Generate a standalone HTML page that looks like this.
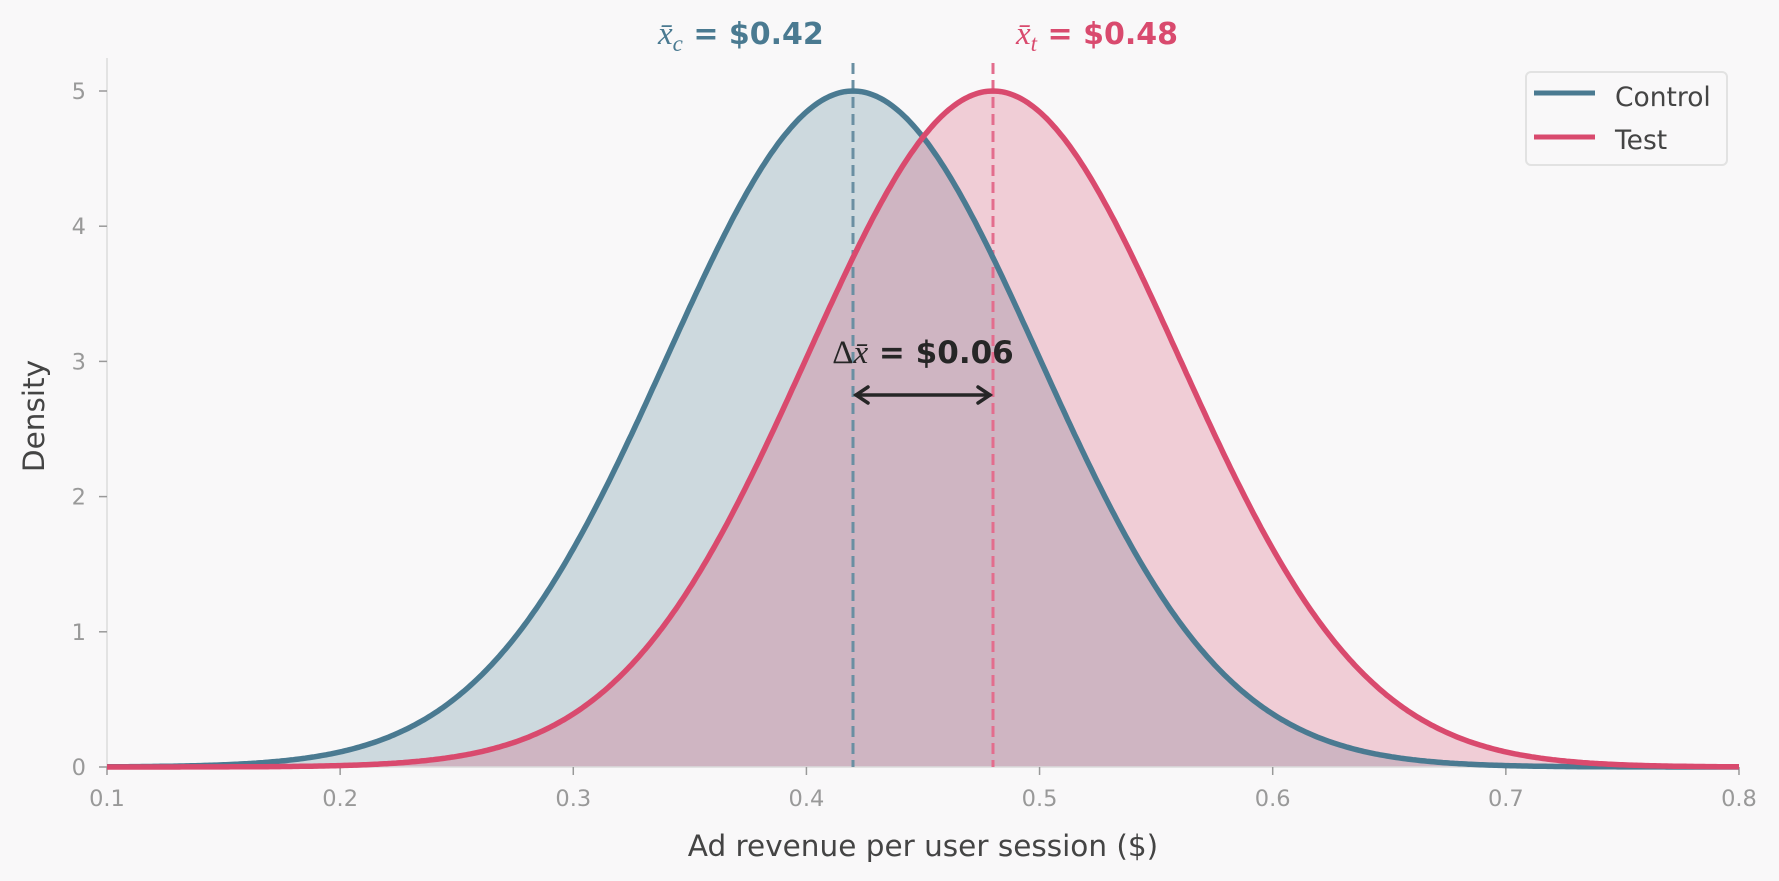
<!DOCTYPE html>
<html><head><meta charset="utf-8"><style>
html,body{margin:0;padding:0;background:#f9f8f9;}
svg{display:block;font-family:"DejaVu Sans","Liberation Sans",sans-serif;}
</style></head><body>
<svg id="s" width="1779" height="881" viewBox="0 0 1779 881" xmlns="http://www.w3.org/2000/svg">
<rect width="1779" height="881" fill="#f9f8f9"/>
<g id="fills"></g>
<line x1="107" y1="58" x2="107" y2="767" stroke="#dcdcdc" stroke-width="1.5"/>
<line x1="107" y1="767" x2="1739" y2="767" stroke="#dcdcdc" stroke-width="1.5"/>
<g id="ticks" fill="#999" font-size="22.5"></g>
<line x1="853" y1="63" x2="853" y2="767" stroke="#6a8fa2" stroke-width="3" stroke-dasharray="11,6"/>
<line x1="993" y1="63" x2="993" y2="767" stroke="#e36d8d" stroke-width="3" stroke-dasharray="11,6"/>
<g id="lines"></g>
<text x="658" y="44" fill="#4a7a91" font-size="30"><tspan font-family="Liberation Serif,serif" font-style="italic" font-size="33">x̄</tspan><tspan font-family="Liberation Serif,serif" font-style="italic" font-size="23" dy="7">c</tspan><tspan dy="-7" font-weight="bold"> = $0.42</tspan></text>
<text x="1016" y="44" fill="#d94a6e" font-size="30"><tspan font-family="Liberation Serif,serif" font-style="italic" font-size="33">x̄</tspan><tspan font-family="Liberation Serif,serif" font-style="italic" font-size="23" dy="7">t</tspan><tspan dy="-7" font-weight="bold"> = $0.48</tspan></text>
<text x="923" y="363" text-anchor="middle" fill="#262626" font-size="31"><tspan font-family="Liberation Serif,serif" font-size="33">Δ</tspan><tspan font-family="Liberation Serif,serif" font-style="italic" font-size="33">x̄</tspan><tspan font-weight="bold"> = $0.06</tspan></text>
<g stroke="#262626" stroke-width="3.5" fill="none" stroke-linecap="round">
<line x1="856" y1="395" x2="990" y2="395"/>
<polyline points="868,387 856,395 868,403"/>
<polyline points="978,387 990,395 978,403"/>
</g>
<rect x="1526" y="72" width="201" height="93" rx="5" fill="#f9f8f9" stroke="#e2e2e2" stroke-width="2"/>
<line x1="1534" y1="93" x2="1595" y2="93" stroke="#4a7a91" stroke-width="5"/>
<line x1="1534" y1="137" x2="1595" y2="137" stroke="#d94a6e" stroke-width="5"/>
<text x="1615" y="106" fill="#444" font-size="26.5">Control</text>
<text x="1615" y="149" fill="#444" font-size="26.5">Test</text>
<text x="923" y="856" text-anchor="middle" fill="#444" font-size="29.5">Ad revenue per user session ($)</text>
<text transform="translate(44,416) rotate(-90)" text-anchor="middle" fill="#444" font-size="29.5">Density</text>
</svg>
<script>
var X=function(v){return 107+(v-0.1)*2331.4;},Y=function(d){return 767-d*135.2;};
var sd=1/(5*Math.sqrt(2*Math.PI));
function pdf(x,m){return Math.exp(-0.5*Math.pow((x-m)/sd,2))/(sd*Math.sqrt(2*Math.PI));}
function path(m,close){var p="";for(var i=0;i<=700;i++){var x=0.1+i*0.001;p+=(i?"L":"M")+X(x).toFixed(1)+","+Y(pdf(x,m)).toFixed(1);}if(close)p+="L"+X(0.8)+","+Y(0)+"L"+X(0.1)+","+Y(0)+"Z";return p;}
var NS="http://www.w3.org/2000/svg";
function add(g,attrs){var e=document.createElementNS(NS,attrs.tag||"path");for(var k in attrs)if(k!="tag")e.setAttribute(k,attrs[k]);document.getElementById(g).appendChild(e);return e;}
add("fills",{d:path(0.42,1),fill:"#4a7a91","fill-opacity":"0.25"});
add("fills",{d:path(0.48,1),fill:"#d94a6e","fill-opacity":"0.25"});
add("lines",{d:path(0.42,0),fill:"none",stroke:"#4a7a91","stroke-width":"5.5"});
add("lines",{d:path(0.48,0),fill:"none",stroke:"#d94a6e","stroke-width":"5.5"});
for(var i=1;i<=8;i++){var v=i/10,x=X(v);add("ticks",{tag:"line",x1:x,y1:767,x2:x,y2:775,stroke:"#999","stroke-width":"1.5"});var t=add("ticks",{tag:"text",x:x,y:806,"text-anchor":"middle"});t.textContent=v.toFixed(1);}
for(var d=0;d<=5;d++){var y=Y(d);add("ticks",{tag:"line",x1:99,y1:y,x2:107,y2:y,stroke:"#999","stroke-width":"1.5"});var t=add("ticks",{tag:"text",x:86,y:y+8,"text-anchor":"end"});t.textContent=d;}
</script>
</body></html>
